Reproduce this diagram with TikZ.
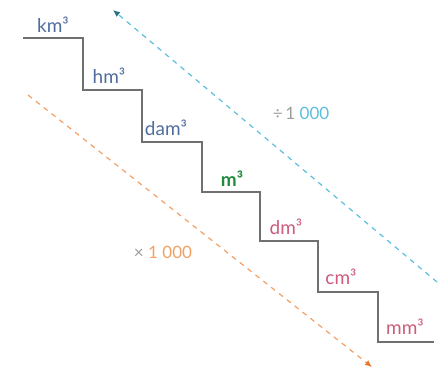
\documentclass[tikz,border=0pt]{standalone}
\usepackage{fontspec}
\setmainfont{Lato}
\usetikzlibrary{arrows.meta, positioning}
\definecolor{unitblue}{RGB}{78,110,158}
\definecolor{unitpink}{RGB}{204,92,124}
\definecolor{unitgreen}{RGB}{34,140,62}
\definecolor{stairgray}{RGB}{112,112,112}
\definecolor{lineblue}{RGB}{92,190,222}
\definecolor{tipblue}{RGB}{36,112,132}
\definecolor{lineorange}{RGB}{242,160,100}
\definecolor{tiporange}{RGB}{232,120,40}

\begin{document}
\begin{tikzpicture}[x=1pt, y=-1pt,
  every node/.style={font=\fontsize{19}{21}\selectfont, inner sep=0pt},
  unit/.style={anchor=base},
  stair/.style={stairgray, line width=1.1pt},
  factor/.style={font=\fontsize{17}{19}\selectfont, anchor=base}]
  \useasboundingbox (0,0) rectangle (439,380);

  % staircase corners
  \coordinate (s0) at (23,38);
  \coordinate (s1) at (83,90);
  \coordinate (s2) at (142,142);
  \coordinate (s3) at (202,192);
  \coordinate (s4) at (260,241);
  \coordinate (s5) at (318,292);
  \coordinate (s6) at (378,342);
  \coordinate (s7) at (434,342);

  \draw[stair] (s0) -| (s1) -| (s2) -| (s3) -| (s4) -| (s5) -| (s6) -- (s7);

  % units
  \node[unit, unitblue] (km) at (53,32) {km³};
  \node[unit, unitblue] (hm) at (109,83) {hm³};
  \node[unit, unitblue] (dam) at (166,135) {dam³};
  \node[unit, unitgreen, font=\fontsize{19}{21}\selectfont\bfseries] (m) at (232,186) {m³};
  \node[unit, unitpink] (dm) at (286,234) {dm³};
  \node[unit, unitpink] (cm) at (341,284) {cm³};
  \node[unit, unitpink] (mm) at (405,334) {mm³};

  % conversion arrows
  \coordinate (up0) at (437,282);
  \coordinate (up1) at (113,10);
  \coordinate (dn0) at (28,95);
  \coordinate (dn1) at (372,367);

  \draw[lineblue, line width=1.2pt, dash pattern=on 5pt off 5pt,
        -{Latex[length=7pt, width=6pt, tipblue]}] (up0) -- (up1);
  \draw[lineorange, line width=1.2pt, dash pattern=on 5pt off 5pt,
        -{Latex[length=7pt, width=6pt, tiporange]}] (dn0) -- (dn1);

  \node[factor, lineblue] (div) at (301,119) {\textcolor{stairgray!70}{÷\,1} 000};
  \node[factor, lineorange] (mul) at (163,258) {\textcolor{stairgray!70}{×} 1 000};
\end{tikzpicture}
\end{document}
